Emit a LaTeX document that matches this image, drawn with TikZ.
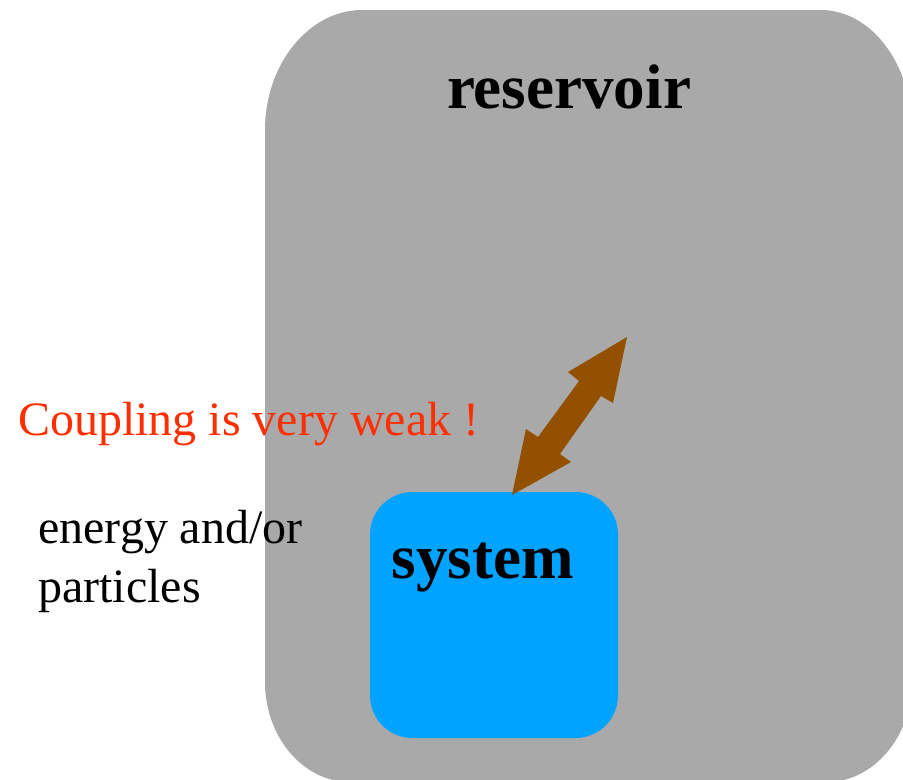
\documentclass[tikz,border=0pt]{standalone}
\usepackage{fontspec}
\setmainfont{Liberation Serif}
\definecolor{resgray}{HTML}{A9A9A9}
\definecolor{sysblue}{HTML}{00A3FF}
\definecolor{couplebrown}{HTML}{935100}
\definecolor{warnred}{HTML}{FF2E00}
\begin{document}
\begin{tikzpicture}[x=0.02cm, y=-0.02cm]
    \tikzstyle{title}=[anchor=base, inner sep=0pt, font=\fontsize{35.9}{40}\selectfont\bfseries]
    \tikzstyle{remark}=[anchor=base west, inner sep=0pt, font=\fontsize{27.3}{31}\selectfont]
    \useasboundingbox (0,0) rectangle (903,779);

    % reservoir (runs off the page on the right and at the bottom)
    \fill[resgray] (265,130) .. controls (265,64) and (309,10) .. (362,10) -- (821,10)
        .. controls (871,10) and (912,64) .. (912,130) -- (912,682)
        .. controls (912,737) and (873,782) .. (827,782) -- (350,782)
        .. controls (303,782) and (265,737) .. (265,682) -- cycle;

    % system
    \fill[sysblue, rounded corners=0.85cm] (370,492) rectangle (618,738);

    % coupling arrow
    \fill[couplebrown] (627,337) -- (613,403) -- (601,396) -- (560,454) -- (571,462)
        -- (512,495) -- (526,429) -- (538,437) -- (579,381) -- (568,372) -- cycle;

    \node[title] (res) at (569,108) {reservoir};
    \node[title] (sys) at (483,578) {system};
    \node[remark, text=warnred] (weak) at (18,435) {Coupling is very weak !};
    \node[remark] (exch1) at (38,543) {energy and/or};
    \node[remark] (exch2) at (38,602) {particles};
\end{tikzpicture}
\end{document}
